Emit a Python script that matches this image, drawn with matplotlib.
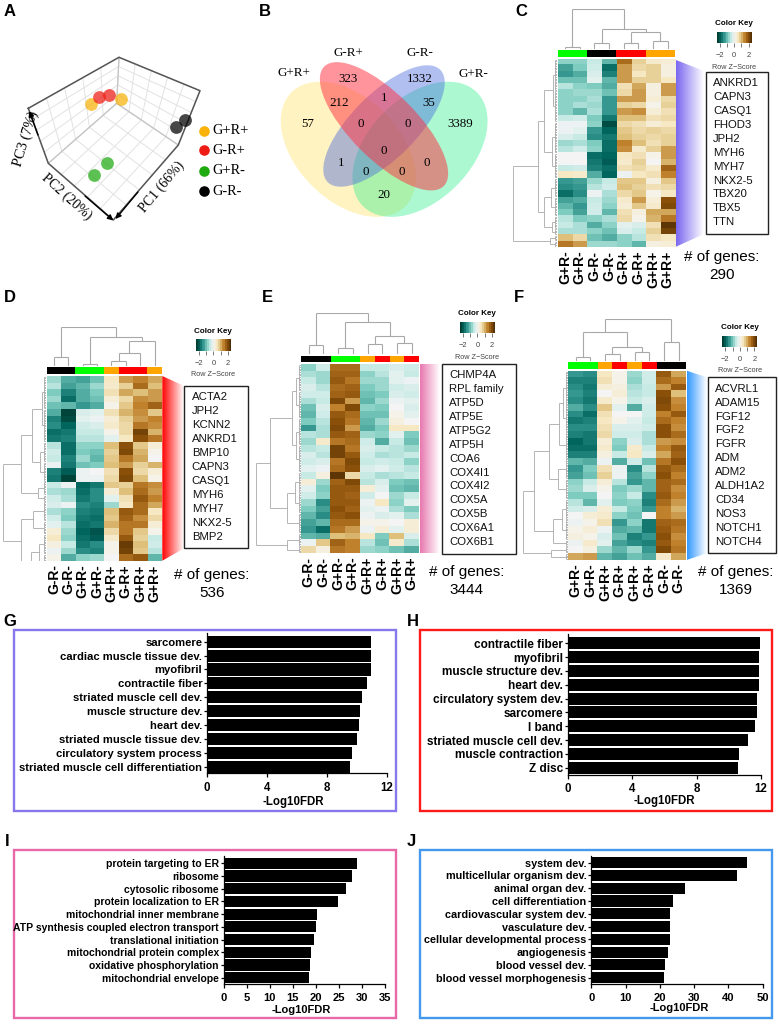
# -*- coding: utf-8 -*-
import numpy as np
import matplotlib
matplotlib.use('Agg')
import matplotlib.pyplot as plt
from matplotlib.colors import LinearSegmentedColormap
from matplotlib.patches import Ellipse, Polygon, Rectangle

plt.rcParams['font.family'] = ['Liberation Sans', 'DejaVu Sans']

W, H = 779, 1025
GREEN, BLACK, RED, ORANGE = '#00ff00', '#000000', '#ff0000', '#ffa500'

# ---------- data ----------
# panel A, PCA samples as they sit on the page
pca_groups = ['G+R+', 'G-R+', 'G+R-', 'G-R-']
pca_colors = ['#f9b208', '#ee1c14', '#1faa10', '#000000']
pca_x = [[90.7, 120.7], [98.7, 109.3], [106.7, 93.7], [175.7, 184.7]]
pca_y = [[103.7, 99.0], [97.3, 94.7], [163.3, 175.0], [126.7, 120.0]]

# panel B
venn_names = ['G+R+', 'G-R+', 'G-R-', 'G+R-']
venn_counts = [57, 323, 212, 1, 1332, 35, 3389, 0, 0, 0, 1, 0, 0, 0, 20]

# heatmaps, rows top to bottom, row z-scores read by eye
labels_c = ['G+R-', 'G+R-', 'G-R-', 'G-R-', 'G-R+', 'G-R+', 'G+R+', 'G+R+']
side_c = [GREEN, GREEN, BLACK, BLACK, RED, RED, ORANGE, ORANGE]
heat_c = [
    [-0.9, -0.9, -0.5, -1.2, 1.7, 0.8, 0.4, 0.3],
    [-1.4, -1.0, -0.4, -1.9, 1.3, 0.7, 0.8, 0.2],
    [-1.5, -1.3, -0.3, -1.7, 1.3, 0.5, 0.8, 0.2],
    [-1.1, -1.1, -0.2, -1.2, 1.3, 0.8, 0.8, 0.5],
    [-0.6, -0.9, -1.0, -1.3, 0.6, 1.2, 0.2, 1.3],
    [-0.9, -0.8, -0.8, -1.1, 0.7, 1.3, 0.2, 1.3],
    [-0.9, -0.9, -0.7, -1.5, 1.3, 1.3, 0.3, 0.7],
    [-0.9, -0.7, -0.8, -1.5, 0.8, 0.7, 0.1, 0.8],
    [-0.9, -1.2, -0.7, -1.5, 1.3, 1.4, 0.3, 0.6],
    [-0.5, -0.4, -1.0, -1.8, 1.0, 1.0, 0.6, 0.7],
    [-0.1, -0.1, -0.9, -2.3, 0.7, 0.6, 0.3, 0.5],
    [-0.1, -0.2, -1.5, -2.0, 0.9, 0.7, 0.8, 0.7],
    [-0.3, -0.5, -1.6, -1.8, 1.0, 0.8, 0.7, 0.8],
    [-0.8, -0.7, -1.0, -1.9, 1.5, 1.0, 0.6, 0.8],
    [-0.6, -0.4, -0.9, -1.9, 1.4, 0.4, 0.8, 1.3],
    [0.0, 0.0, -1.9, -2.0, 0.5, 0.6, 0.1, 1.3],
    [0.0, 0.0, -1.8, -2.1, 0.4, 0.8, 0.0, 1.1],
    [-0.5, -0.4, -1.7, -1.9, 0.6, 0.7, 0.4, 1.8],
    [0.5, 0.4, -1.3, -2.0, -0.1, 0.5, 0.6, 1.5],
    [-1.5, -1.4, -0.8, -0.5, 0.9, 0.9, 0.2, 0.9],
    [-1.6, -1.5, -0.6, -0.4, 1.0, 0.8, 0.6, 0.7],
    [-1.9, -1.6, -0.1, -0.7, 0.7, 0.9, 0.1, 0.5],
    [-1.4, -1.3, -0.5, -0.8, 0.4, 1.3, 0.3, 2.0],
    [-1.2, -1.5, -0.4, -0.9, 0.3, 0.9, 0.4, 2.1],
    [-1.0, -1.4, -0.4, -1.2, 0.6, 0.2, 1.2, 1.2],
    [-0.6, -1.0, -0.9, -0.7, 0.7, 0.1, 1.1, 1.6],
    [-0.5, -0.7, -1.3, -0.9, -0.2, -0.3, 0.6, 2.4],
    [-0.7, -0.7, -0.9, -1.1, -0.3, -0.5, 0.8, 2.2],
    [1.0, 0.7, -1.1, -1.3, -0.9, -0.6, 0.6, 0.5],
    [1.6, 1.3, -0.8, -0.8, -0.9, -1.2, 0.2, 0.3],
]
labels_d = ['G-R-', 'G-R-', 'G+R-', 'G+R-', 'G+R+', 'G-R+', 'G+R+', 'G+R+']
side_d = [BLACK, BLACK, GREEN, GREEN, ORANGE, RED, RED, ORANGE]
heat_d = [
    [-0.8, -1.3, -1.4, -1.1, 0.5, 1.3, 1.5, 1.2],
    [-0.6, -1.4, -1.2, -0.8, 0.4, 0.8, 1.7, 1.0],
    [-1.0, -1.7, -1.3, -1.0, 0.6, 1.2, 1.0, 1.3],
    [-0.8, -1.9, -1.3, -1.1, 0.3, 0.7, 1.4, 1.3],
    [-1.1, -1.2, -1.5, -1.3, 0.1, 0.9, 1.5, 1.8],
    [-1.3, -2.4, -0.3, -0.2, 0.6, 1.1, 1.4, 0.9],
    [-1.7, -2.3, -0.2, -0.1, 0.3, 0.8, 1.3, 1.5],
    [-1.6, -2.0, -0.4, -0.3, 0.4, 0.7, 1.6, 1.4],
    [-1.9, -1.8, -0.5, -0.5, 0.1, 0.7, 2.2, 1.1],
    [-1.8, -1.7, -0.6, -0.6, -0.2, 0.5, 2.0, 1.6],
    [-0.6, -1.9, -0.9, -0.9, 1.0, 2.0, 0.9, 0.3],
    [-0.4, -1.9, -1.0, -1.1, 0.8, 2.1, 1.1, 0.1],
    [-0.5, -1.7, -0.8, -1.2, 0.9, 1.6, 1.2, 0.0],
    [-0.1, -1.8, -1.1, -1.0, 1.0, 1.3, 0.8, 1.1],
    [-1.7, -2.1, -0.1, 0.0, 0.6, 2.0, 0.7, 0.3],
    [-1.8, -2.4, -0.1, -0.1, 0.7, 2.1, 1.0, 0.1],
    [-0.5, -0.1, -2.0, -1.8, 0.9, 0.8, 1.6, 1.4],
    [-0.7, -0.8, -1.9, -1.6, 0.3, 1.0, 1.7, 1.3],
    [-0.4, -0.7, -1.8, -1.6, -0.2, 0.6, 1.9, 1.5],
    [-0.3, -0.1, -1.6, -1.7, -0.8, 0.5, 1.7, 1.2],
    [-0.7, -0.9, -1.7, -1.8, 1.0, 1.9, 1.7, 0.5],
    [-0.4, -1.0, -1.8, -1.9, 0.9, 1.8, 1.4, 0.7],
    [-0.2, -0.6, -1.9, -1.8, 1.1, 1.6, 1.6, 0.3],
    [0.3, -0.8, -2.0, -2.2, 0.7, 1.6, 0.9, 0.1],
    [0.5, -0.9, -1.9, -2.1, 0.4, 1.9, 0.8, -0.5],
    [0.2, -0.5, -1.8, -1.6, 0.1, 2.3, 1.0, -0.4],
    [-0.1, -0.8, -1.6, -1.7, 0.1, 2.2, 0.9, -0.6],
    [0.1, -1.3, -0.9, -0.8, 0.0, 1.7, 1.9, -1.2],
]
labels_e = ['G-R-', 'G-R-', 'G+R-', 'G+R-', 'G+R+', 'G-R+', 'G+R+', 'G-R+']
side_e = [BLACK, BLACK, GREEN, GREEN, ORANGE, RED, ORANGE, RED]
heat_e = [
    [-0.9, -0.4, 1.7, 1.7, -0.5, -0.5, -0.3, -0.4],
    [-0.7, -0.8, 1.8, 1.8, -0.9, -0.6, -0.2, -0.5],
    [-0.5, -0.8, 1.9, 1.6, -0.8, -0.8, -0.2, -0.1],
    [-0.3, -0.6, 1.7, 1.8, -1.0, -0.8, -0.4, -0.3],
    [-0.4, -0.4, 1.8, 1.9, -1.1, -1.0, -0.3, -0.4],
    [-0.7, -0.5, 2.1, 1.3, -1.2, -0.8, -0.1, -0.2],
    [-1.1, -0.3, 1.5, 2.1, -0.9, -1.0, 0.0, -0.3],
    [-1.2, -0.4, 1.9, 1.7, -1.1, -1.1, 0.1, -0.2],
    [-1.0, -0.6, 2.0, 1.6, -1.2, -0.8, 0.2, 0.0],
    [-1.5, -0.7, 2.1, 1.3, -1.3, -1.0, 0.5, 0.5],
    [-0.6, -0.7, 1.9, 1.8, -0.8, -0.9, -0.2, -1.0],
    [-0.8, 0.4, 1.6, 1.7, -0.4, -1.3, -0.5, -1.1],
    [-0.6, -0.5, 2.2, 1.6, -0.3, -0.5, -0.6, -0.8],
    [-0.3, -0.6, 2.2, 1.9, -0.4, -0.7, -0.6, -0.5],
    [-0.4, -0.3, 1.6, 2.1, -0.5, -0.4, -0.5, -0.9],
    [-0.2, -0.1, 1.7, 2.0, -0.3, -0.2, -0.4, -0.6],
    [-0.5, 0.2, 2.4, 0.7, -0.5, -0.7, -0.6, -0.5],
    [0.3, -0.8, 1.8, 2.1, -0.6, -0.3, -1.0, -1.1],
    [-0.2, -1.0, 1.9, 1.9, 0.3, -0.2, -1.1, -1.2],
    [-0.4, -0.9, 1.9, 1.8, -0.4, 0.0, -0.8, -0.5],
    [-0.8, -1.6, 1.9, 1.9, -0.1, 0.5, -0.9, -0.2],
    [-1.0, -1.4, 2.0, 1.8, -0.2, -0.1, -0.7, -1.0],
    [-1.2, -1.6, 1.9, 2.0, -0.1, -0.3, -0.2, -0.7],
    [-1.4, -1.2, 1.7, 1.7, 0.1, 0.1, 0.0, 0.3],
    [-1.5, -1.9, 1.6, 1.3, -0.1, 0.3, -0.2, 0.3],
    [-1.2, -1.3, 1.0, 1.1, 0.5, -1.0, 1.0, -0.3],
    [-0.1, 0.9, 1.8, 1.5, -0.6, -1.1, 0.4, -0.7],
    [0.7, 0.2, 1.6, 1.5, -0.8, -0.9, -1.1, -1.3],
]
labels_f = ['G+R-', 'G+R-', 'G+R+', 'G-R+', 'G+R+', 'G-R+', 'G-R-', 'G-R-']
side_f = [GREEN, GREEN, ORANGE, RED, ORANGE, RED, BLACK, BLACK]
heat_f = [
    [-1.5, -1.6, 0.5, 0.1, -0.8, -0.4, 1.9, 1.2],
    [-1.7, -1.7, 0.6, 0.1, -0.9, -0.4, 1.7, 1.5],
    [-1.6, -1.8, 0.3, 0.2, -0.7, -0.5, 1.3, 1.9],
    [-1.5, -1.7, 0.0, 0.3, -0.6, -0.5, 2.0, 1.0],
    [-1.6, -1.8, 0.4, 0.1, -0.5, -0.3, 2.1, 1.4],
    [-1.3, -1.6, 0.9, -0.2, -1.3, -0.4, 2.0, 1.5],
    [-1.6, -1.9, 0.6, 0.0, 0.0, -0.4, 1.5, 1.9],
    [-1.8, -1.7, 0.5, 0.1, -0.2, -0.5, 1.7, 1.5],
    [-1.6, -1.6, 0.6, -0.3, -0.3, -0.4, 2.0, 1.4],
    [-1.7, -1.8, 0.7, -0.4, -0.4, -0.7, 2.0, 1.7],
    [-2.0, -1.8, 0.3, -0.9, -0.3, -0.7, 1.3, 1.4],
    [-1.9, -1.9, 0.4, -1.0, 0.4, -0.5, 1.5, 1.9],
    [-1.7, -1.7, 0.2, -0.5, 0.5, -0.3, 1.2, 1.8],
    [-1.2, -1.3, -0.1, -1.3, -0.4, -1.1, 1.6, 2.0],
    [-1.5, -1.0, 0.6, -0.1, -1.6, -0.6, 1.9, 1.7],
    [-1.4, -1.1, 0.8, -0.1, -1.4, -0.9, 2.0, 1.5],
    [-0.9, -0.5, 0.3, -0.6, -1.5, -1.2, 1.8, 1.7],
    [-0.8, -0.3, 0.1, -1.0, -0.8, -1.2, 1.8, 1.4],
    [-1.0, -1.0, 0.0, -0.9, -0.5, -1.6, 1.9, 1.5],
    [-0.6, -1.2, -0.2, -1.0, -0.9, -1.7, 1.7, 1.3],
    [-0.4, -0.3, 0.3, -0.5, -1.0, -1.5, 1.5, 1.1],
    [0.0, 0.3, 0.4, -0.9, -1.1, 0.0, 1.5, 1.3],
    [-0.1, 0.1, 0.6, -1.5, -0.9, -1.8, 1.8, 1.7],
    [0.1, 0.3, -0.1, -1.3, -1.2, -1.8, 1.9, 1.6],
    [0.2, 0.1, -0.3, -1.1, -1.7, -1.5, 2.0, 1.4],
    [-0.1, 0.4, -0.2, -1.4, -1.6, -1.7, 1.9, 1.5],
    [0.0, 0.2, -0.8, -1.2, -0.8, -1.5, 2.1, 1.6],
    [1.2, 1.3, -1.2, -1.4, -1.1, -1.3, 0.4, 1.2],
]

# dendrograms: (height, left, right), a plain int is a leaf of that many rows/cols
top_c = (1.0, (0.04, 1, 1), (0.51, (0.14, 1, 1), (0.43, (0.14, 1, 1), (0.19, 1, 1))))
top_d = (1.0, (0.24, 1, 1), (0.75, (0.04, 1, 1), (0.65, (0.34, (0.13, 1, 1), 1), 1)))
top_e = (1.0, (0.23, 1, 1), (0.80, (0.16, 1, 1), (0.45, (0.25, 1, 1), (0.27, 1, 1))))
top_f = (1.0, (0.68, (0.10, 1, 1), (0.32, (0.16, 1, 1), (0.21, 1, 1))), (0.44, 1, 1))
side_tree_c = (1.0, (0.44, (0.30, (0.10, 5, 5), (0.11, 5, 4)), (0.30, (0.13, 3, 3), (0.12, 2, 1))), (0.17, 1, 1))
side_tree_d = (1.0, (0.58, (0.33, (0.10, 5, 5), (0.14, 3, 3)), (0.20, 2, 1)), (0.58, (0.30, 3, 2), (0.36, (0.16, 3, 2), 2)))
side_tree_e = (1.0, (0.69, (0.20, (0.10, 4, 4), (0.10, 4, 4)), (0.30, (0.14, 3, 3), 3)), (0.30, 2, 1))
side_tree_f = (1.0, (0.75, (0.42, (0.20, (0.10, 5, 4), 4), (0.22, 3, 3)), (0.34, (0.14, 3, 3), 1)), (0.38, 1, 1))

# genes listed beside the heatmaps
genes_c = ['ANKRD1', 'CAPN3', 'CASQ1', 'FHOD3', 'JPH2', 'MYH6', 'MYH7', 'NKX2-5', 'TBX20', 'TBX5', 'TTN']
genes_d = ['ACTA2', 'JPH2', 'KCNN2', 'ANKRD1', 'BMP10', 'CAPN3', 'CASQ1', 'MYH6', 'MYH7', 'NKX2-5', 'BMP2']
genes_e = ['CHMP4A', 'RPL family', 'ATP5D', 'ATP5E', 'ATP5G2', 'ATP5H', 'COA6', 'COX4I1', 'COX4I2',
           'COX5A', 'COX5B', 'COX6A1', 'COX6B1']
genes_f = ['ACVRL1', 'ADAM15', 'FGF12', 'FGF2', 'FGFR', 'ADM', 'ADM2', 'ALDH1A2', 'CD34', 'NOS3',
           'NOTCH1', 'NOTCH4']

# enrichment bars
terms_g = ['sarcomere', 'cardiac muscle tissue dev.', 'myofibril', 'contractile fiber',
           'striated muscle cell dev.', 'muscle structure dev.', 'heart dev.',
           'striated muscle tissue dev.', 'circulatory system process',
           'striated muscle cell differentiation']
fdr_g = [10.93, 10.93, 10.93, 10.7, 10.33, 10.24, 10.17, 10.04, 9.68, 9.53]
terms_h = ['contractile fiber', 'myofibril', 'muscle structure dev.', 'heart dev.',
           'circulatory system dev.', 'sarcomere', 'I band', 'striated muscle cell dev.',
           'muscle contraction', 'Z disc']
fdr_h = [11.92, 11.9, 11.88, 11.88, 11.77, 11.73, 11.65, 11.19, 10.65, 10.59]
terms_i = ['protein targeting to ER', 'ribosome', 'cytosolic ribosome', 'protein localization to ER',
           'mitochondrial inner membrane', 'ATP synthesis coupled electron transport',
           'translational initiation', 'mitochondrial protein complex', 'oxidative phosphorylation',
           'mitochondrial envelope']
fdr_i = [28.85, 27.9, 26.47, 24.73, 20.25, 19.96, 19.5, 19.0, 18.73, 18.58]
terms_j = ['system dev.', 'multicellular organism dev.', 'animal organ dev.', 'cell differentiation',
           'cardiovascular system dev.', 'vasculature dev.', 'cellular developmental process',
           'angiogenesis', 'blood vessel dev.', 'blood vessel morphogenesis']
fdr_j = [45.4, 42.4, 27.2, 23.8, 22.9, 22.9, 22.9, 22.5, 21.5, 21.3]

# ---------- helpers ----------
fig = plt.figure(figsize=(W / 100, H / 100), dpi=100)
key_cmap = plt.get_cmap('BrBG_r', 16)
heat_cmap = plt.get_cmap('BrBG_r')


def px_axes(x0, y0, x1, y1):
    a = fig.add_axes([x0 / W, 1 - y1 / H, (x1 - x0) / W, (y1 - y0) / H])
    a.patch.set_alpha(0)
    return a


# page-sized axes for everything placed by pixel
page = px_axes(0, 0, W, H)
page.axis('off')


def reset_page():
    page.set_xlim(0, W)
    page.set_ylim(H, 0)


reset_page()


def tree_segments(node, start, comb, out):
    # returns centre position, height of the node and next free position
    if isinstance(node, int):
        if not comb:
            return start + 0.5, 0.0, start + 1
        n = node * 4
        pos = [start + (i + 0.5) * node / n for i in range(n)]
        for p in pos:
            out.append(([p, p], [0, 0.05]))
        out.append(([pos[0], pos[-1]], [0.05, 0.05]))
        return start + node / 2, 0.05, start + node
    h, left, right = node
    c1, h1, nxt = tree_segments(left, start, comb, out)
    c2, h2, nxt = tree_segments(right, nxt, comb, out)
    out.append(([c1, c1], [h1, h]))
    out.append(([c2, c2], [h2, h]))
    out.append(([c1, c2], [h, h]))
    return (c1 + c2) / 2, h, nxt


def heatmap(x0, x1, y0, y1, rows, labels, sides, top_tree, side_tree, dtop, dleft):
    rows = np.array(rows)
    ax = px_axes(x0, y0, x1, y1)
    ax.imshow(rows, cmap=heat_cmap, vmin=-2.5, vmax=2.5, aspect='auto', interpolation='nearest',
              extent=(0, 8, len(rows), 0))
    for s in ax.spines.values():
        s.set_visible(False)
    ax.set_yticks([])
    ax.set_xticks(np.arange(8) + 0.5)
    ax.set_xticklabels(labels, rotation=90, fontsize=10, fontweight='bold')
    ax.tick_params(axis='x', length=0, pad=2.5)
    # colour bar above
    bar = px_axes(x0, y0 - 8.7, x1, y0 - 2)
    bar.bar(np.arange(8) + 0.5, 1, width=1, color=sides)
    bar.set_xlim(0, 8)
    bar.set_ylim(0, 1)
    bar.axis('off')
    # column tree
    seg = []
    tree_segments(top_tree, 0, False, seg)
    dt = px_axes(x0, dtop, x1, y0 - 10)
    for a, b in seg:
        dt.plot(a, b, color='#a8a8a8', lw=0.8, solid_capstyle='butt')
    dt.set_xlim(0, 8)
    dt.set_ylim(0, 1)
    dt.axis('off')
    # row tree
    seg = []
    tree_segments(side_tree, 0, True, seg)
    dl = px_axes(dleft, y0, x0 - 0.5, y1)
    for a, b in seg:
        dl.plot(b, a, color='#a8a8a8', lw=0.6, solid_capstyle='butt')
    dl.set_xlim(1, 0)
    dl.set_ylim(len(rows), 0)
    dl.axis('off')


def color_key(x0, x1, y0, y1):
    ax = px_axes(x0, y0, x1, y1)
    ax.imshow(np.linspace(-2.4, 2.4, 64).reshape(1, -1), cmap=key_cmap, vmin=-2.5, vmax=2.5,
              aspect='auto', extent=(-2.4, 2.4, 0, 1))
    ax.set_yticks([])
    ax.set_xticks([-2, -1, 0, 1, 2])
    ax.set_xticklabels(['\u22122', '', '0', '', '2'], fontsize=5.4, color='#444444')
    ax.tick_params(axis='x', length=3, width=0.5, pad=3.5, color='#444444')
    for s in ax.spines.values():
        s.set_visible(False)
    cx = (x0 + x1) / 2
    page.text(cx, y0 - 8, 'Color Key', ha='center', va='center', fontsize=5.8, fontweight='bold')
    page.text(cx, y1 + 24, 'Row Z\u2212Score', ha='center', va='center', fontsize=5.2, color='#444444')


def wedge(x0, x1, left, right, color):
    cm = LinearSegmentedColormap.from_list('fade', [color, '#ffffff'])
    im = page.imshow(np.linspace(0, 1, 64).reshape(1, -1), cmap=cm, aspect='auto',
                     extent=(x0, x1, max(left[1], right[1]), min(left[0], right[0])), zorder=1)
    poly = Polygon([(x0, left[0]), (x1, right[0]), (x1, right[1]), (x0, left[1])],
                   transform=page.transData, fc='none', ec='none')
    page.add_patch(poly)
    im.set_clip_path(poly)
    reset_page()


def gene_box(x0, x1, y0, y1, text_x, text_y, genes, cx, cy, count):
    page.add_patch(Rectangle((x0, y0), x1 - x0, y1 - y0, fc='white', ec='#222222', lw=1.0, zorder=2))
    for i, g in enumerate(genes):
        page.text(text_x, text_y + i * 13.93, g, ha='left', va='center', fontsize=8.2, zorder=3,
                  color='#111111')
    page.text(cx, cy, '# of genes:', ha='center', va='center', fontsize=11)
    page.text(cx, cy + 18, str(count), ha='center', va='center', fontsize=11)


def bar_panel(x0, x1, ytop, ybot, c0, c9, xmax, ticks, terms, vals, frame, fbox, lab, fs, tick_fs):
    page.add_patch(Rectangle((fbox[0], fbox[1]), fbox[2] - fbox[0], fbox[3] - fbox[1],
                             fc='none', ec=frame, lw=1.7))
    ax = px_axes(x0, ytop, x1, ybot)
    y = np.arange(len(vals))
    ax.barh(y, vals, height=0.87, color='black')
    step = (c9 - c0) / 9
    ax.set_ylim(9 + (ybot - c9) / step, -(c0 - ytop) / step)
    ax.set_xlim(0, xmax)
    ax.set_yticks(y)
    ax.set_yticklabels(terms, fontsize=fs, fontweight='bold')
    ax.set_xticks(ticks)
    ax.set_xticklabels(ticks, fontsize=tick_fs, fontweight='bold')
    ax.tick_params(axis='y', length=2.5, width=0.9, pad=1)
    ax.tick_params(axis='x', length=3, width=0.9, pad=3.2)
    ax.spines['top'].set_visible(False)
    ax.spines['right'].set_visible(False)
    ax.spines['left'].set_linewidth(0.9)
    ax.spines['bottom'].set_linewidth(0.9)
    page.text(lab[0], lab[1], '-Log10FDR', ha='center', va='center', fontsize=tick_fs, fontweight='bold')


# ---------- panel letters ----------
letters = {'A': (10, 12), 'B': (264.7, 12), 'C': (521.7, 12), 'D': (10, 297), 'E': (267, 297),
           'F': (519, 297), 'G': (10, 621), 'H': (412.7, 621), 'I': (6.7, 841), 'J': (411, 841)}
for k, (lx, ly) in letters.items():
    page.text(lx, ly, k, ha='center', va='center', fontsize=12, fontweight='bold')

# ---------- panel A ----------
front, right_b, left_b = (113.3, 220), (178.3, 145), (48.3, 163.3)
back_b, back_t = (116.7, 103.3), (119, 57.3)
left_t, right_t = (28.3, 108.3), (200, 90.7)


def quad_grid(p00, p10, p11, p01, n=6):
    p00, p10, p11, p01 = map(np.array, (p00, p10, p11, p01))
    for t in np.linspace(0, 1, n):
        a = p00 + (p10 - p00) * t
        b = p01 + (p11 - p01) * t
        page.plot([a[0], b[0]], [a[1], b[1]], color='#e2e2e2', lw=0.7, zorder=1)
        a = p00 + (p01 - p00) * t
        b = p10 + (p11 - p10) * t
        page.plot([a[0], b[0]], [a[1], b[1]], color='#e2e2e2', lw=0.7, zorder=1)


quad_grid(front, right_b, back_b, left_b)
quad_grid(left_b, back_b, back_t, left_t)
quad_grid(right_b, back_b, back_t, right_t)
for a, b in [(left_b, back_b), (right_b, back_b), (back_b, back_t)]:
    page.plot([a[0], b[0]], [a[1], b[1]], color='#c4c4c4', lw=0.9, zorder=1)
outline = [left_t, back_t, right_t, right_b, front, left_b, left_t]
page.plot([p[0] for p in outline], [p[1] for p in outline], color='#555555', lw=1.1, zorder=2)
arrow = dict(arrowstyle='-|>', color='black', lw=1.0, mutation_scale=8, shrinkA=0, shrinkB=0)
page.annotate('', xy=(113.3, 220.5), xytext=(85, 196), arrowprops=arrow, zorder=3)
page.annotate('', xy=(115.5, 219), xytext=(138, 192), arrowprops=arrow, zorder=3)
page.annotate('', xy=(29.3, 111), xytext=(38, 135), arrowprops=arrow, zorder=3)
for xs, ys, c in zip(pca_x, pca_y, pca_colors):
    page.scatter(xs, ys, s=85, color=c, alpha=0.72, linewidths=0, zorder=4)
for i, (name, c) in enumerate(zip(pca_groups, pca_colors)):
    ly = [131, 150, 170.7, 191.3][i]
    page.scatter([204], [ly], s=58, color=c, linewidths=0, zorder=4)
    page.text(212.5, ly, name, ha='left', va='center', family='Liberation Serif', fontsize=10.4)
page.text(26, 138.5, 'PC3 (7%)', rotation=73, ha='center', va='center',
          family='Liberation Serif', fontsize=10.4)
page.text(66.7, 196.5, 'PC2 (20%)', rotation=-42, ha='center', va='center',
          family='Liberation Serif', fontsize=10)
page.text(161.7, 186.5, 'PC1 (66%)', rotation=50, ha='center', va='center',
          family='Liberation Serif', fontsize=10)

# ---------- panel B ----------
ell = [((348.3, 149.3), 161, 103, 45, '#ffdd44', 0.33),     # G+R+
       ((420, 149.3), 161, 103, -45, '#22ee88', 0.38),      # G+R-
       ((384, 126), 159, 65, -45, '#4466dd', 0.42),         # G-R-
       ((384, 126.3), 169, 66, 45, '#ff3344', 0.52)]        # G-R+
for c, w, h, ang, col, al in ell:
    page.add_patch(Ellipse(c, w, h, angle=ang, fc=col, ec='none', alpha=al, zorder=1))
venn_xy = [(174, 373), (295, 238), (266, 310), (403, 294), (510, 238), (537, 310), (630, 373),
           (332, 373), (473, 373), (402, 452), (274, 488), (348, 516), (456, 516), (531, 488),
           (402, 586)]
for (vx, vy), n in zip(venn_xy, venn_counts):
    page.text(vx / 3 + 250, vy / 3, str(n), ha='center', va='center', zorder=3,
              family='Liberation Serif', fontsize=9.4)
for (vx, vy), n in zip([(133, 220), (295, 158), (510, 158), (671, 222)], venn_names):
    page.text(vx / 3 + 250, vy / 3, n, ha='center', va='center', zorder=3,
              family='Liberation Serif', fontsize=9.4)

# ---------- panels C-F ----------
heatmap(557.7, 675, 59, 247.3, heat_c, labels_c, side_c, top_c, side_tree_c, 9.3, 513)
color_key(716.7, 751.7, 31.7, 43.3)
wedge(676, 704, (60, 246.7), (71, 234), '#7a68f0')
gene_box(706, 768.3, 71.7, 234.3, 713, 83, genes_c, 721.7, 256.7, 290)

heatmap(46.7, 161.7, 376, 560.7, heat_d, labels_d, side_d, top_d, side_tree_d, 327.3, 3.3)
color_key(196, 230.7, 339.3, 351)
wedge(162.3, 184.3, (376, 560.7), (386, 548.3), '#ff0000')
gene_box(184.3, 247.7, 386, 548.3, 191.7, 397.3, genes_d, 212, 575, 536)

heatmap(301.3, 419, 364.3, 553.3, heat_e, labels_e, side_e, top_e, side_tree_e, 313.3, 256)
color_key(460, 494.7, 321.7, 333.3)
wedge(420.3, 440, (364.3, 553.3), (364.3, 553.3), '#e878b0')
gene_box(441.7, 515.7, 364, 554, 449, 375, genes_e, 466.7, 572.3, 3444)

heatmap(568.3, 686, 370.7, 560, heat_f, labels_f, side_f, top_f, side_tree_f, 319, 523)
color_key(722.3, 757.3, 335.7, 347)
wedge(686.7, 706.7, (370.7, 560), (377.3, 553.3), '#3399ff')
gene_box(707.7, 775.7, 377.3, 553.3, 715, 388.7, genes_f, 735.7, 572.3, 1369)

# ---------- panels G-J ----------
bar_panel(207, 386.7, 633.3, 773.3, 641.7, 766.7, 12, [0, 4, 8, 12], terms_g, fdr_g,
          '#8878ee', (14.3, 630, 395.7, 811), (293, 801.7), 8.1, 8.3)
bar_panel(568, 761, 634.3, 774.7, 643.3, 767.7, 12, [0, 4, 8, 12], terms_h, fdr_h,
          '#ff1a1a', (419.7, 630, 772.3, 811), (664, 800.7), 8.5, 8.3)
bar_panel(223.7, 385, 855.7, 984.3, 863.3, 977.7, 35, [0, 5, 10, 15, 20, 25, 30, 35], terms_i, fdr_i,
          '#e868a8', (14.3, 850, 395.7, 1018.3), (301.7, 1010), 7.45, 8)
bar_panel(591.3, 762.7, 855.7, 984.3, 862.7, 977.7, 50, [0, 10, 20, 30, 40, 50], terms_j, fdr_j,
          '#4499ee', (419.7, 850, 772.3, 1018.3), (679.3, 1008.3), 7.8, 8)

fig.savefig('out.png', dpi=100)
